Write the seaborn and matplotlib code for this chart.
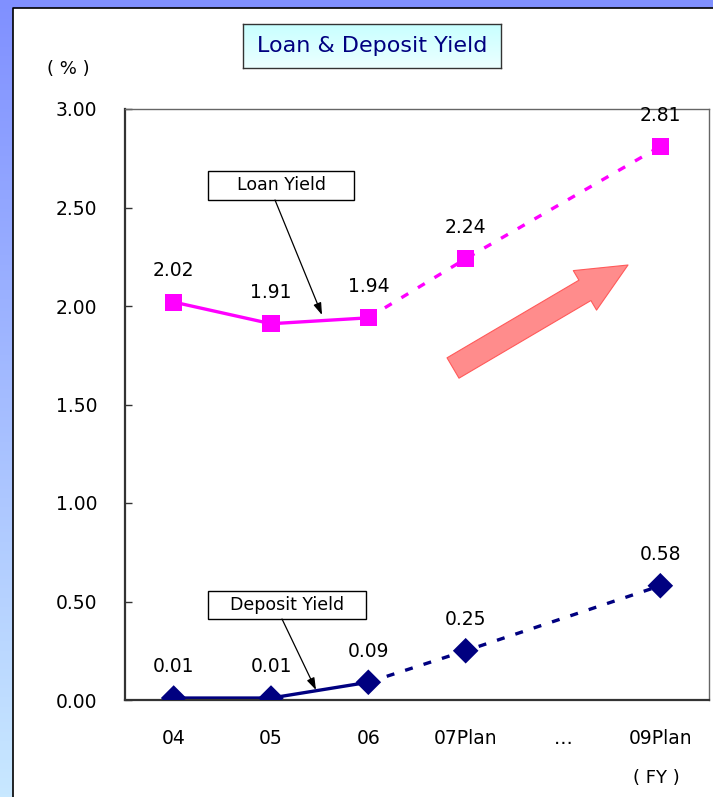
import numpy as np
import pandas as pd
import matplotlib
matplotlib.use("Agg")
import matplotlib.pyplot as plt
from matplotlib.patches import Rectangle
import seaborn as sns

# Fiscal-year categories and yields (%)
categories = ["04", "05", "06", "07Plan", "…", "09Plan"]
loan_yield = [2.02, 1.91, 1.94, 2.24, None, 2.81]
deposit_yield = [0.01, 0.01, 0.09, 0.25, None, 0.58]
actual_years = ["04", "05", "06"]
plan_years = ["06", "07Plan", "09Plan"]
y_ticks = [0.0, 0.5, 1.0, 1.5, 2.0, 2.5, 3.0]

sns.set_theme(style="white")
plt.rcParams["font.family"] = ["DejaVu Sans"]
plt.rcParams["text.color"] = "black"

rows = []
for i, c in enumerate(categories):
    if loan_yield[i] is not None:
        rows.append({"cat": c, "pos": i, "series": "Loan Yield", "value": loan_yield[i]})
    if deposit_yield[i] is not None:
        rows.append({"cat": c, "pos": i, "series": "Deposit Yield", "value": deposit_yield[i]})
df = pd.DataFrame(rows)

W, H = 713, 797
fig = plt.figure(figsize=(W / 100, H / 100), dpi=100)

# background gradient frame
bg = fig.add_axes([0, 0, 1, 1], zorder=-10)
top = np.array([128, 144, 255]) / 255
bot = np.array([200, 232, 255]) / 255
t = np.linspace(0, 1, 256)[:, None]
grad = (top[None, :] * (1 - t) + bot[None, :] * t)[:, None, :]
bg.imshow(np.repeat(grad, 4, axis=1), aspect="auto", extent=[0, W, H, 0])
bg.add_patch(Rectangle((13, 8), W - 13, H - 8, facecolor="white", edgecolor="none"))
bg.plot([13, 13, W], [H, 8, 8], color="black", lw=1.2)
bg.set_xlim(0, W)
bg.set_ylim(H, 0)
bg.axis("off")

ax = fig.add_axes([125 / W, 1 - 700 / H, 584 / W, 591 / H])
ax.set_facecolor("white")

palette = {"Loan Yield": "#ff00ff", "Deposit Yield": "#000080"}
markers = {"Loan Yield": "s", "Deposit Yield": "D"}

act = df[df["cat"].isin(actual_years)]
plan = df[df["cat"].isin(plan_years)]
sns.lineplot(data=act, x="pos", y="value", hue="series", palette=palette,
             lw=2.4, legend=False, ax=ax, sort=True)
sns.lineplot(data=plan, x="pos", y="value", hue="series", palette=palette,
             lw=2.4, legend=False, ax=ax, sort=True)
for line in ax.lines[2:]:
    line.set_linestyle((0, (2.4, 3.4)))
for s in ["Loan Yield", "Deposit Yield"]:
    sub = df[df["series"] == s]
    sns.scatterplot(data=sub, x="pos", y="value", color=palette[s], marker=markers[s],
                    s=150 if s == "Loan Yield" else 170, edgecolor="none",
                    legend=False, ax=ax, zorder=5)
    for _, r in sub.iterrows():
        ax.annotate(f"{r['value']:.2f}", (r["pos"], r["value"]), xytext=(0, 22.5),
                    textcoords="offset points", ha="center", va="center",
                    fontsize=13.5, color="black")

ax.set_xlim(-0.5, len(categories) - 0.5)
ax.set_ylim(0, 3.0)
ax.set_yticks(y_ticks)
ax.set_yticklabels([f"{v:.2f}" for v in y_ticks])
ax.set_xticks(range(len(categories)))
ax.set_xticklabels(categories)
ax.set_xticks(np.arange(0.5, len(categories) - 0.5, 1.0), minor=True)
ax.tick_params(axis="x", which="major", length=0, pad=21, labelsize=13.5, labelcolor="black")
ax.tick_params(axis="x", which="minor", length=5, direction="in", color="#333333", width=1)
ax.tick_params(axis="y", length=5, direction="in", pad=20, labelsize=13.5, color="#333333",
               width=1, left=True, labelcolor="black")
ax.set_xlabel("")
ax.set_ylabel("")
for side in ["left", "bottom"]:
    ax.spines[side].set_color("#333333")
    ax.spines[side].set_linewidth(1.6)
for side in ["top", "right"]:
    ax.spines[side].set_color("#666666")
    ax.spines[side].set_linewidth(1.0)


def px(x, y):
    """pixel position -> data coordinates of the main axes"""
    return ((x - 125) / 97.33 - 0.5, (700 - y) / 197.0)


# callout boxes with arrows
for label, (x0, y0, x1, y1), tail, tip in [
    ("Loan Yield", (208, 171, 354, 200), (275, 200), (322, 315)),
    ("Deposit Yield", (208, 591, 366, 619), (282, 619), (316, 690)),
]:
    a = px(x0, y1)
    b = px(x1, y0)
    ax.add_patch(Rectangle(a, b[0] - a[0], b[1] - a[1], facecolor="white",
                           edgecolor="black", lw=1.0, zorder=6))
    ax.text((a[0] + b[0]) / 2, (a[1] + b[1]) / 2, label, ha="center", va="center",
            fontsize=12.5, zorder=7)
    ax.annotate("", xy=px(*tip), xytext=px(*tail),
                arrowprops=dict(arrowstyle="-|>,head_length=0.6,head_width=0.2",
                                color="black", lw=0.9, shrinkA=0, shrinkB=0), zorder=6)

# upward trend arrow
ax.annotate("", xy=px(628, 265), xytext=px(453, 368),
            arrowprops=dict(arrowstyle="simple,head_length=3.6,head_width=3.3,tail_width=1.7",
                            mutation_scale=10, facecolor="#ff8c8c", edgecolor="#ff5a5a",
                            lw=0.8, shrinkA=0, shrinkB=0), zorder=4)

# title box with light cyan fill
tb = fig.add_axes([243 / W, 1 - 68 / H, 258 / W, 44 / H])
cy = np.array([200, 255, 255]) / 255
cw = np.array([236, 255, 255]) / 255
g2 = (cy[None, :] * (1 - t) + cw[None, :] * t)[:, None, :]
tb.imshow(np.repeat(g2, 4, axis=1), aspect="auto", extent=[0, 1, 0, 1])
tb.set_xticks([])
tb.set_yticks([])
for sp in tb.spines.values():
    sp.set_color("#333333")
    sp.set_linewidth(1.0)
tb.text(0.5, 0.5, "Loan & Deposit Yield", ha="center", va="center",
        fontsize=16, color="#000080", transform=tb.transAxes)

fig.text(68 / W, 1 - 69 / H, "( % )", ha="center", va="center", fontsize=13)
fig.text(656 / W, 1 - 778 / H, "( FY )", ha="center", va="center", fontsize=13)

fig.savefig("out.png", dpi=100)
